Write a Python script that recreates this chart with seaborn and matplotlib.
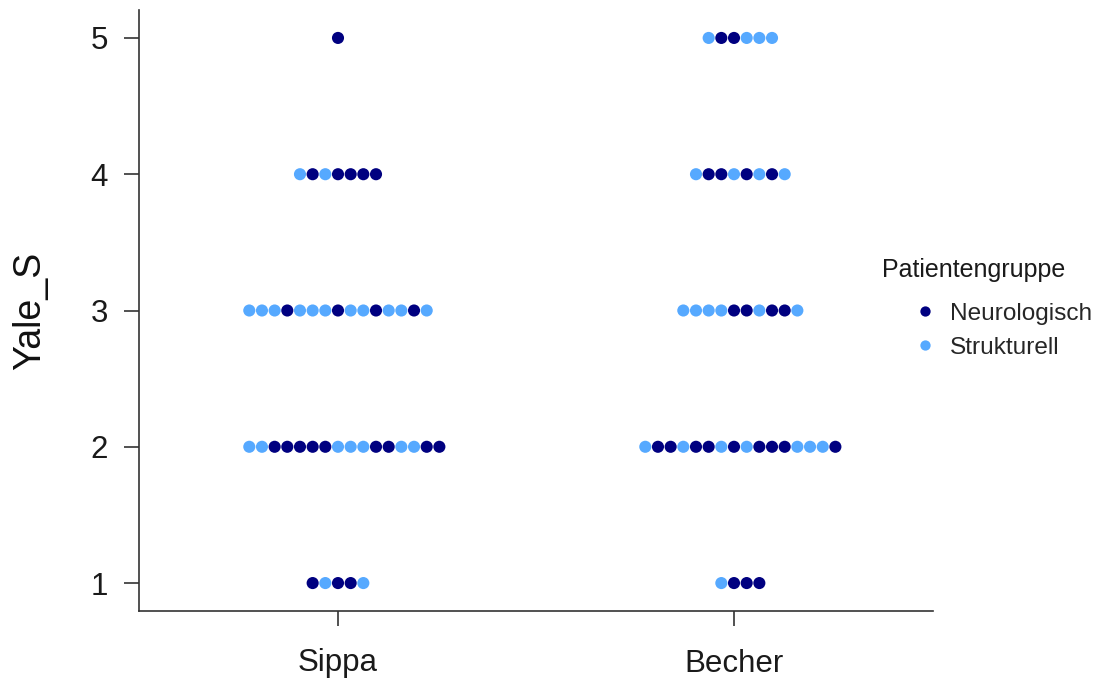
import numpy as np
import pandas as pd
import matplotlib
matplotlib.use("Agg")
import matplotlib.pyplot as plt
import seaborn as sns

# ---------------- data ----------------
categories = ["Sippa", "Becher"]
yale_levels = [1, 2, 3, 4, 5]
group_codes = {"N": "Neurologisch", "S": "Strukturell"}
hue_order = ["Neurologisch", "Strukturell"]
# left-to-right order of the dots in each row (N = Neurologisch, S = Strukturell), levels 1..5
sippa_rows = ["NSNNS", "SSNNNNNSSSNNSSNN", "SSSNSSSNSSNSSNS", "SNSNNNN", "N"]
becher_rows = ["SNNN", "SNNSNNSNSNNNSSSN", "SSSSNNSNNS", "SNNSNSNS", "SNNSSS"]
palette = {"Neurologisch": "#000080", "Strukturell": "#56A9FF"}

DOT_STEP = 0.032  # dot-stack width (category units), like a centred dotplot

records = []
for ci, rows in enumerate([sippa_rows, becher_rows]):
    for level, row in zip(yale_levels, rows):
        n = len(row)
        first = -((n - 1) // 2)
        for i, code in enumerate(row):
            records.append({
                "Kategorie": categories[ci],
                "pos": ci + (first + i) * DOT_STEP,
                "Yale_S": level,
                "Patientengruppe": group_codes[code],
            })
df = pd.DataFrame(records)

# ---------------- style ----------------
sns.set_theme(style="ticks")
plt.rcParams["font.family"] = ["Liberation Sans", "DejaVu Sans"]

W, H = 1102, 679
fig = plt.figure(figsize=(W / 100, H / 100), dpi=100)
ax = fig.add_axes([139 / W, 1 - 611 / H, (933 - 139) / W, (611 - 10) / H])

sns.scatterplot(data=df, x="pos", y="Yale_S", hue="Patientengruppe",
                hue_order=hue_order, palette=palette, s=76, linewidth=0,
                ax=ax, zorder=3)

ax.set_xlim(-0.5025, 1.5025)
ax.set_ylim(0.795, 5.205)
ax.set_xticks(range(len(categories)))
ax.set_xticklabels(categories)
ax.set_yticks(yale_levels)
ax.set_yticklabels([str(v) for v in yale_levels])
ax.set_xlabel("")
ax.set_ylabel("Yale_S", fontsize=27, color="#111111")
ax.yaxis.set_label_coords(-0.1146, 0.5)

for side in ["top", "right"]:
    ax.spines[side].set_visible(False)
for side in ["left", "bottom"]:
    ax.spines[side].set_color("#333333")
    ax.spines[side].set_linewidth(1.2)
ax.tick_params(axis="both", length=10.5, width=1.2, color="#333333",
               labelsize=22.5, labelcolor="#1a1a1a")
ax.tick_params(axis="y", pad=12)
ax.tick_params(axis="x", pad=16.5)

# legend: title as figure text, entries indented as in the reference
sns.move_legend(ax, "center left", bbox_to_anchor=(913 / W, 1 - 330.5 / H),
                bbox_transform=fig.transFigure, frameon=False, title=None,
                borderpad=0, borderaxespad=0, fontsize=17.6,
                handlelength=1.0, handletextpad=0.52, labelspacing=0.49,
                markerscale=0.85)
ax.get_legend().set_title(None)
fig.text(882 / W, 1 - 270 / H, "Patientengruppe", fontsize=18,
         color="#1a1a1a", ha="left", va="center")

fig.savefig("out.png", dpi=100)
